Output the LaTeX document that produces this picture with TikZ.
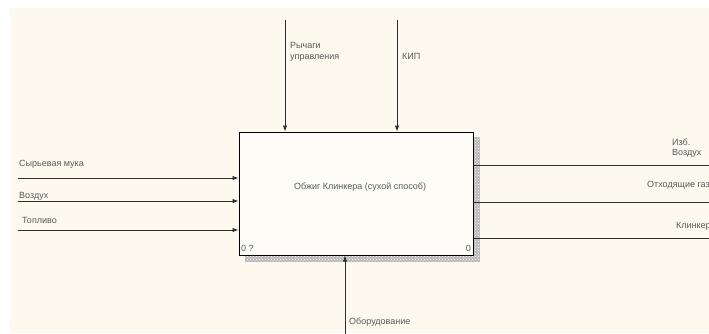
\documentclass[tikz,border=0pt]{standalone}
\usepackage{fontspec}
\setmainfont{Liberation Sans}
\usetikzlibrary{arrows.meta,patterns}
\definecolor{bgcream}{HTML}{FDF9EE}
\definecolor{boxfill}{HTML}{FEFCF6}
\definecolor{linecol}{HTML}{2E2E2E}
\definecolor{txtcol}{HTML}{5A5A5A}
\tikzset{
  lbl/.style={font=\fontsize{9}{10.5}\selectfont, text=txtcol, inner sep=0pt, anchor=west, align=left},
  flow/.style={draw=linecol, line width=0.9pt, -{Latex[length=6pt,width=4.5pt]}},
  plainflow/.style={draw=linecol, line width=0.9pt},
  funcbox/.style={draw=black, line width=1pt, fill=boxfill, minimum width=234pt, minimum height=123pt, inner sep=0pt},
  shadowfill/.style={fill=gray!55, postaction={pattern=crosshatch dots, pattern color=white}}
}
\begin{document}
\begin{tikzpicture}[x=1pt,y=-1pt]
\useasboundingbox (0,0) rectangle (709,333);
\clip (0,0) rectangle (709,333);
\fill[white] (0,0) rectangle (709,333);
\fill[bgcream] (10,8) rectangle (709,333);
% shadow
\path[shadowfill] (473,137) rectangle (480,262);
\path[shadowfill] (245,255) rectangle (480,262);
% box
\node[funcbox] (box) at (356,193.5) {};
\node[font=\fontsize{9}{10.5}\selectfont, text=txtcol] (title) at (360,187) {Обжиг Клинкера (сухой способ)};
\node[lbl] (n0q) at (241,248) {0 ?};
\node[lbl, anchor=east] (n0) at (471,248) {0};
% top controls
\coordinate (c1) at (285,20);
\coordinate (c2) at (397,20);
\draw[flow] (c1) -- (c1 |- box.north);
\draw[flow] (c2) -- (c2 |- box.north);
\node[lbl] (lc1) at (290,52) {Рычаги\\управления};
\node[lbl] (lc2) at (402,56) {КИП};
% inputs
\coordinate (i1) at (18,178);
\coordinate (i2) at (18,201);
\coordinate (i3) at (18,230);
\draw[flow] (i1) -- (i1 -| box.west);
\draw[flow] (i2) -- (i2 -| box.west);
\draw[flow] (i3) -- (i3 -| box.west);
\node[lbl] (li1) at (19,164) {Сырьевая мука};
\node[lbl] (li2) at (19,196) {Воздух};
\node[lbl] (li3) at (22,220) {Топливо};
% outputs
\coordinate (o1) at (712,165);
\coordinate (o2) at (712,202);
\coordinate (o3) at (712,238);
\draw[plainflow] (o1 -| box.east) -- (o1);
\draw[plainflow] (o2 -| box.east) -- (o2);
\draw[plainflow] (o3 -| box.east) -- (o3);
\node[lbl] (lo1) at (672,148) {Изб.\\Воздух};
\node[lbl] (lo2) at (647,185) {Отходящие газы};
\node[lbl] (lo3) at (676,226) {Клинкер};
% mechanism
\coordinate (m1) at (345,336);
\draw[flow] (m1) -- (m1 |- box.south);
\node[lbl] (lm1) at (349,322) {Оборудование};
\end{tikzpicture}
\end{document}
